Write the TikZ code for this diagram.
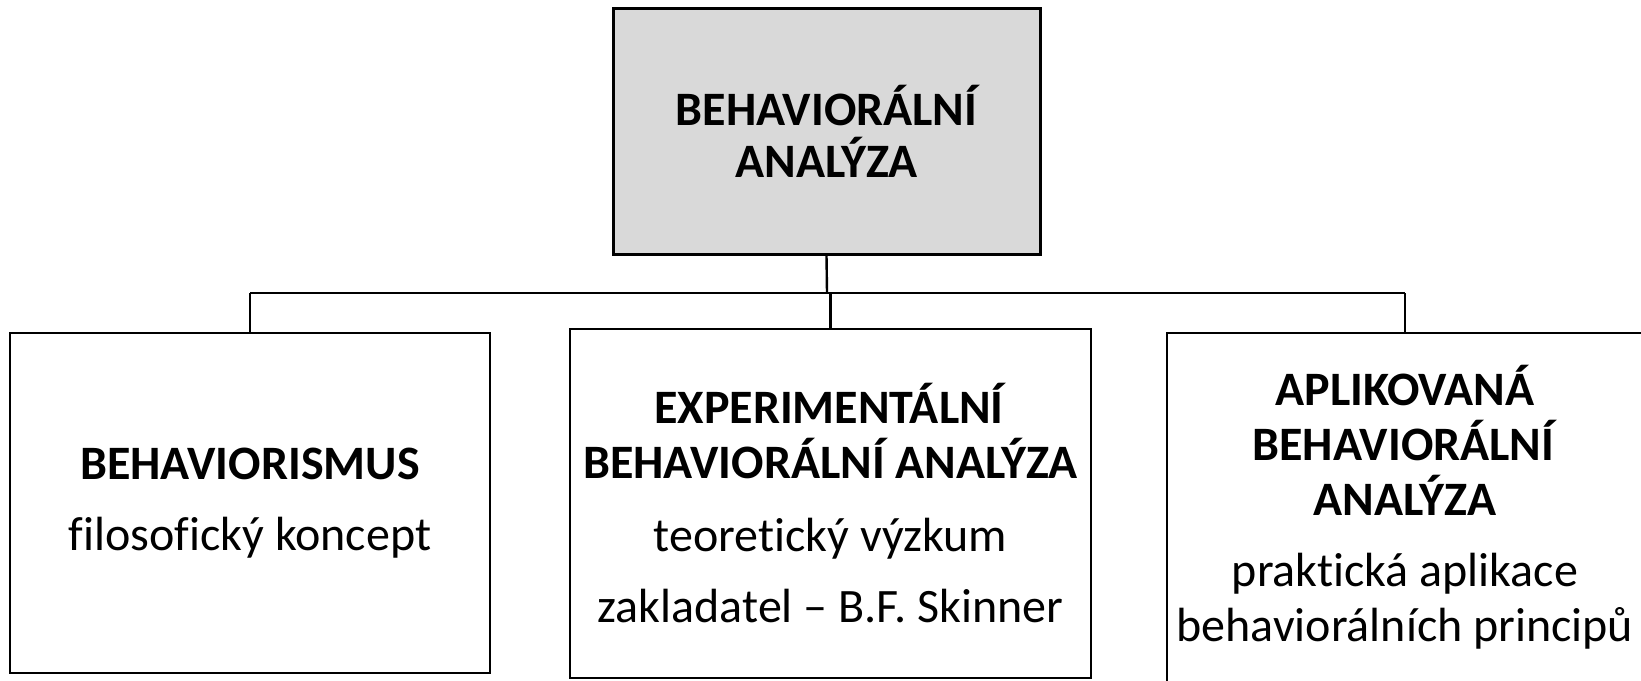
\documentclass[tikz,border=0pt]{standalone}
\usepackage{fontspec}
\setmainfont{Carlito}[Ligatures=NoCommon]
\definecolor{boxgray}{HTML}{D9D9D9}
\begin{document}
\begin{tikzpicture}[x=1pt,y=-1pt,
  box/.style={draw=black,line width=2.6pt,inner sep=0pt,align=center,
    font=\fontsize{48}{55}\selectfont},
  link/.style={draw=black,line width=2.4pt}]
\useasboundingbox (0,0) rectangle (1641,680);
\node[box,fill=boxgray,line width=3pt,minimum width=427pt,minimum height=246pt,
  font=\fontsize{48}{52}\selectfont\bfseries] (top) at (826.5,131)
  {BEHAVIORÁLNÍ\\ANALÝZA};
\node[box,minimum width=480pt,minimum height=340pt] (left) at (250,503)
  {\textbf{BEHAVIORISMUS}\\[16pt]filosofický koncept};
\node[box,minimum width=521pt,minimum height=349pt] (mid) at (830.5,503.5)
  {\textbf{EXPERIMENTÁLNÍ}\\\textbf{BEHAVIORÁLNÍ ANALÝZA}\\[18pt]teoretický výzkum\\[16pt]zakladatel – B.F. Skinner};
\node[box,minimum width=476pt,minimum height=349pt] (right) at (1405,507.5)
  {\textbf{APLIKOVANÁ}\\\textbf{BEHAVIORÁLNÍ}\\\textbf{ANALÝZA}\\[16pt]praktická aplikace\\behaviorálních principů};
\coordinate (j) at (827,293);
\draw[link] (top.south) -- (j);
\draw[link] (left.north |- j) -- (right.north |- j);
\draw[link] (left.north |- j) -- (left.north);
\draw[link] (mid.north |- j) -- (mid.north);
\draw[link] (right.north |- j) -- (right.north);
\end{tikzpicture}
\end{document}
